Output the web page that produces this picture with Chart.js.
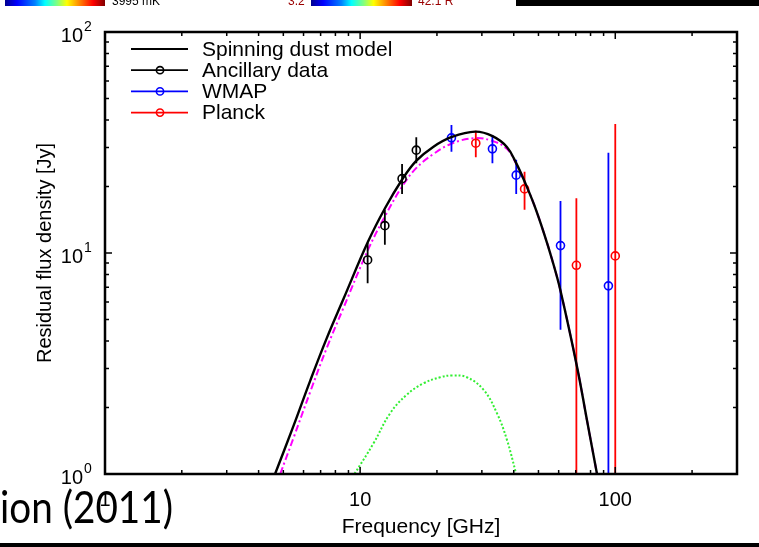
<!DOCTYPE html>
<html>
<head>
<meta charset="utf-8">
<script src="https://cdn.jsdelivr.net/npm/chart.js@4.4.1/dist/chart.umd.min.js"></script>
<style>
  html, body { margin: 0; padding: 0; background: #fff; }
  #wrap { position: relative; width: 759px; height: 547px; overflow: hidden; }
  #chart { position: absolute; left: 0; top: 0; }
  .bar { position: absolute; top: 0; height: 6px; }
  .jet { background: linear-gradient(to right, #00008f, #0000ff 12%, #0080ff 30%, #00ffff 40%, #80ff80 52%, #ffff00 62%, #ff8000 75%, #ff0000 88%, #800000); }
  .frag { position: absolute; top: -5px; font: 12px "Liberation Sans", Arial, sans-serif; line-height: 12px; white-space: nowrap; }
  #cite { position: absolute; left: 0; top: 484px; font: 44px Lato, "Open Sans", sans-serif; line-height: 44px; color: #000; white-space: nowrap; transform-origin: 0 0; }
  #footer { position: absolute; left: 0; top: 543px; width: 759px; height: 4px; background: #000; }
</style>
</head>
<body>
<div id="wrap">
  <canvas id="chart" width="759" height="547"></canvas>
  <div class="bar jet" style="left:5px;width:100px;"></div>
  <div class="frag" style="left:112px;color:#000;">3995 mK</div>
  <div class="frag" style="left:288px;color:#9a0000;">3.2</div>
  <div class="bar jet" style="left:311px;width:101px;"></div>
  <div class="frag" style="left:418px;color:#9a0000;">42.1 R</div>
  <div class="bar" style="left:516px;width:243px;background:#000;"></div>
  <div id="cite">ion (2011)</div>
  <div id="footer"></div>
</div>
<script>
// axis ticks
const xTicks = [1, 2, 3, 4, 5, 6, 7, 8, 9, 10, 20, 30, 40, 50, 60, 70, 80, 90, 100, 200, 300];
const xLabels = [1, 10, 100];
const yTicks = [1, 2, 3, 4, 5, 6, 7, 8, 9, 10, 20, 30, 40, 50, 60, 70, 80, 90, 100];
const yLabels = [1, 10, 100];
const yExps = ['0', '1', '2'];

// spinning dust model (total), main component, secondary component
const modelFreq = [4.64, 5.48, 6.37, 7.4, 8.6, 10.72, 12.53, 14.57, 16.58, 19.33, 22.89, 28.25, 33.03, 37.6, 40.9, 44.4, 48.1, 52.4, 56.6, 60.9, 70.8, 77.4, 84.8];
const modelFlux = [1.0, 1.65, 2.64, 4.12, 6.19, 11.2, 15.98, 21.4, 26.1, 30.2, 33.5, 35.4, 33.8, 30.2, 25.5, 20.7, 16.5, 12.4, 9.3, 6.8, 3.06, 1.76, 1.0];
const mainFreq = [4.86, 5.48, 6.37, 7.4, 8.6, 10.72, 12.53, 14.57, 16.58, 19.33, 22.89, 28.25, 33.03, 37.6, 40.9, 44.4, 48.1, 52.4, 56.6, 60.9, 70.8, 77.4, 84.8];
const mainFlux = [1.0, 1.455, 2.35, 3.72, 5.64, 10.3, 14.7, 19.9, 24.2, 28.0, 31.3, 33.1, 32.1, 29.6, 25.3, 20.7, 16.5, 12.4, 9.3, 6.8, 3.06, 1.76, 1.0];
const secFreq = [9.5, 11.3, 13.1, 15.2, 17.7, 20.6, 22.9, 26.2, 30.5, 34.4, 37.6, 40.9];
const secFlux = [1.0, 1.38, 1.88, 2.28, 2.57, 2.74, 2.79, 2.74, 2.40, 1.88, 1.43, 1.0];

// measurements
const ancFreq = [10.7, 12.5, 14.6, 16.6];
const ancFlux = [9.3, 13.3, 21.7, 29.2];
const ancLo = [7.3, 10.9, 18.5, 25.5];
const ancHi = [11.1, 15.7, 25.3, 33.4];

const wmapFreq = [22.8, 33.0, 40.9, 61.0, 94.0];
const wmapFlux = [33.2, 29.6, 22.5, 10.8, 7.1];
const wmapLo = [28.7, 25.5, 18.5, 4.5, 0.5];
const wmapHi = [37.9, 34.2, 26.4, 17.2, 28.4];

const planckFreq = [28.4, 44.1, 70.4, 100];
const planckFlux = [31.4, 19.5, 8.8, 9.7];
const planckLo = [27.1, 15.7, 0.5, 0.5];
const planckHi = [35.7, 23.3, 17.7, 38.3];

const legendNames = ['Spinning dust model', 'Ancillary data', 'WMAP', 'Planck'];
const legendColors = ['#000000', '#000000', '#0000ff', '#ff0000'];
const legendMarker = [false, true, true, true];

const FONT = '"Liberation Sans", Arial, Helvetica, sans-serif';
Chart.defaults.font.family = FONT;
Chart.defaults.color = '#000';

const pts = (xs, ys) => xs.map((x, i) => ({ x: x, y: ys[i] }));
const bars = (xs, lo, hi) => {
  const out = [];
  xs.forEach((x, i) => { out.push({ x: x, y: lo[i] }, { x: x, y: hi[i] }, { x: x, y: null }); });
  return out;
};

const curve = (data, color, width, dash) => ({
  data: data, borderColor: color, borderWidth: width, borderDash: dash,
  pointRadius: 0, fill: false, tension: 0.4
});
const markers = (data, color) => ({
  data: data, showLine: false, borderColor: color, backgroundColor: 'transparent',
  pointRadius: 4, pointBorderWidth: 1.6, pointStyle: 'circle'
});
const errors = (data, color) => ({
  data: data, borderColor: color, borderWidth: 1.8, pointRadius: 0, spanGaps: false, fill: false
});

const framePlugin = {
  id: 'frame',
  afterDatasetsDraw(chart) {
    const { ctx, chartArea: a, scales: { x, y } } = chart;
    ctx.save();
    ctx.strokeStyle = '#000';
    ctx.lineWidth = 1.5;
    ctx.beginPath();
    xTicks.forEach(v => {
      const px = x.getPixelForValue(v);
      const len = xLabels.includes(v) ? 7 : 4;
      ctx.moveTo(px, a.bottom); ctx.lineTo(px, a.bottom - len);
      ctx.moveTo(px, a.top); ctx.lineTo(px, a.top + len);
    });
    yTicks.forEach(v => {
      const py = y.getPixelForValue(v);
      const len = yLabels.includes(v) ? 7 : 4;
      ctx.moveTo(a.left, py); ctx.lineTo(a.left + len, py);
      ctx.moveTo(a.right, py); ctx.lineTo(a.right - len, py);
    });
    ctx.stroke();
    ctx.lineWidth = 2.5;
    ctx.strokeRect(a.left, a.top, a.right - a.left, a.bottom - a.top);
    ctx.restore();
  },
  afterDraw(chart) {
    const { ctx, scales: { y } } = chart;
    ctx.save();
    ctx.fillStyle = '#000';
    // y tick labels as 10^n
    yLabels.forEach((v, i) => {
      const py = y.getPixelForValue(v);
      ctx.font = '20px ' + FONT;
      ctx.textAlign = 'right';
      ctx.textBaseline = 'middle';
      ctx.fillText('10', 83, py + 4);
      ctx.font = '14px ' + FONT;
      ctx.textAlign = 'left';
      ctx.fillText(yExps[i], 84, py - 5);
    });
    // legend
    legendNames.forEach((name, i) => {
      const ly = 49 + i * 21.2;
      ctx.strokeStyle = legendColors[i];
      ctx.lineWidth = i === 0 ? 2.2 : 1.8;
      ctx.beginPath();
      ctx.moveTo(131, ly); ctx.lineTo(188, ly);
      ctx.stroke();
      if (legendMarker[i]) {
        ctx.lineWidth = 1.6;
        ctx.beginPath();
        ctx.arc(160, ly, 3.6, 0, Math.PI * 2);
        ctx.stroke();
      }
      ctx.font = '21px ' + FONT;
      ctx.textAlign = 'left';
      ctx.textBaseline = 'middle';
      ctx.fillText(name, 202, ly + 1);
    });
    ctx.restore();
  }
};

new Chart(document.getElementById('chart').getContext('2d'), {
  type: 'line',
  data: {
    datasets: [
      curve(pts(modelFreq, modelFlux), '#000000', 2.4, []),
      markers(pts(ancFreq, ancFlux), '#000000'),
      markers(pts(wmapFreq, wmapFlux), '#0000ff'),
      markers(pts(planckFreq, planckFlux), '#ff0000'),
      errors(bars(ancFreq, ancLo, ancHi), '#000000'),
      errors(bars(wmapFreq, wmapLo, wmapHi), '#0000ff'),
      errors(bars(planckFreq, planckLo, planckHi), '#ff0000'),
      curve(pts(mainFreq, mainFlux), '#ff00ff', 2, [7, 3, 2, 3]),
      curve(pts(secFreq, secFlux), '#33ee33', 2, [2, 2])
    ]
  },
  options: {
    responsive: false,
    animation: false,
    layout: { padding: { left: 0, right: 22, top: 32, bottom: 0 } },
    plugins: { legend: { display: false }, tooltip: { enabled: false } },
    scales: {
      x: {
        type: 'logarithmic', min: 1, max: 300,
        afterBuildTicks: s => { s.ticks = xTicks.map(v => ({ value: v })); },
        afterFit: s => { s.height = 73; },
        grid: { display: false }, border: { display: false },
        ticks: {
          autoSkip: false, maxRotation: 0, padding: 6, color: '#000',
          font: { size: 20 },
          callback: v => xLabels.includes(v) ? String(v) : ''
        },
        title: { display: true, text: 'Frequency [GHz]', color: '#000', font: { size: 21 }, padding: { top: 0, bottom: 7 } }
      },
      y: {
        type: 'logarithmic', min: 1, max: 100,
        afterBuildTicks: s => { s.ticks = yTicks.map(v => ({ value: v })); },
        afterFit: s => { s.width = 105; },
        grid: { display: false }, border: { display: false },
        ticks: { display: false },
        title: { display: true, text: 'Residual flux density [Jy]', color: '#000', font: { size: 20 }, padding: { top: 33, bottom: 0 } }
      }
    }
  },
  plugins: [framePlugin]
});

// fit the slide caption fragment to its width in the reference
const cite = document.getElementById('cite');
const w = cite.getBoundingClientRect().width;
cite.style.transform = 'scaleX(' + (173 / w) + ')';
</script>
</body>
</html>
